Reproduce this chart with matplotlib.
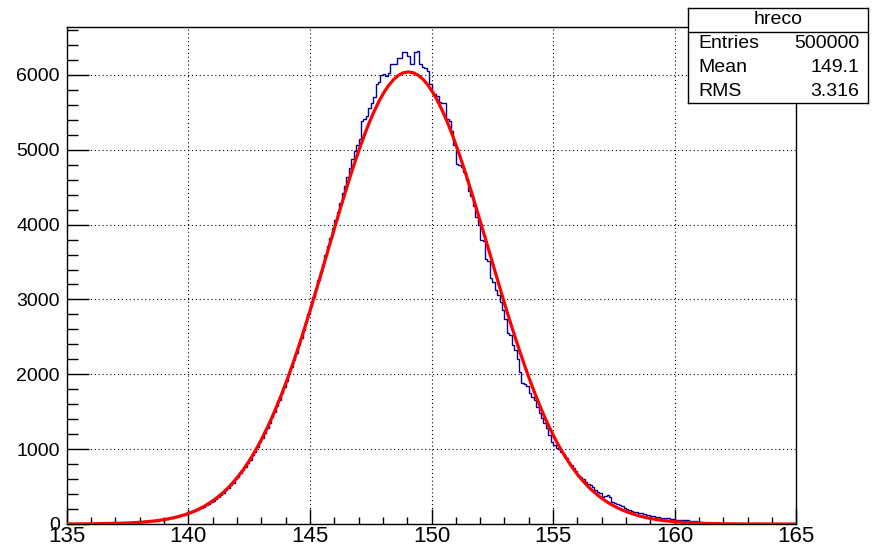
import matplotlib
matplotlib.use('Agg')
import matplotlib.pyplot as plt
import numpy as np
from matplotlib.ticker import MultipleLocator

plt.rcParams['font.family'] = ['Liberation Sans', 'DejaVu Sans']

# histogram hreco: 300 bins of width 0.1 from 135 to 165
bin_edges = np.linspace(135, 165, 301)
counts = [
    0, 0, 1, 0, 0, 1, 0, 1, 1, 2,
    2, 3, 2, 4, 3, 5, 4, 6, 5, 7,
    8, 7, 10, 9, 12, 11, 14, 13, 17, 19,
    22, 27, 28, 33, 36, 37, 44, 45, 53, 55,
    63, 70, 76, 80, 87, 98, 104, 117, 122, 133,
    145, 158, 170, 185, 199, 214, 232, 250, 268, 290,
    312, 338, 362, 392, 418, 452, 481, 519, 553, 596,
    632, 676, 718, 762, 815, 860, 916, 968, 1028, 1092,
    1148, 1218, 1285, 1352, 1428, 1502, 1580, 1660, 1745, 1825,
    1915, 2008, 2095, 2190, 2285, 2390, 2485, 2590, 2700, 2810,
    2915, 3030, 3140, 3260, 3370, 3470, 3600, 3710, 3820, 3950,
    4060, 4170, 4290, 4420, 4520, 4630, 4760, 4880, 4990, 5060,
    5150, 5390, 5410, 5450, 5560, 5620, 5700, 5880, 5900, 6000,
    6010, 5990, 6020, 6140, 6150, 6140, 6230, 6220, 6310, 6300,
    6250, 6140, 6150, 6300, 6320, 6140, 6100, 6090, 6050, 5880,
    5760, 5740, 5720, 5640, 5630, 5620, 5410, 5380, 5250, 5060,
    4810, 4790, 4770, 4700, 4600, 4450, 4380, 4250, 4100, 4000,
    3800, 3780, 3540, 3520, 3290, 3230, 3120, 3060, 2960, 2860,
    2740, 2550, 2530, 2390, 2330, 2200, 2030, 1890, 1870, 1850,
    1750, 1700, 1660, 1560, 1480, 1420, 1350, 1280, 1190, 1100,
    1050, 1020, 1000, 960, 930, 880, 830, 790, 750, 705,
    640, 625, 600, 560, 540, 515, 490, 455, 430, 415,
    365, 380, 390, 360, 300, 285, 265, 250, 235, 215,
    200, 190, 172, 165, 158, 150, 145, 135, 125, 118,
    108, 102, 96, 90, 86, 80, 77, 74, 70, 66,
    58, 55, 52, 50, 53, 48, 45, 42, 38, 30,
    22, 18, 14, 12, 9, 8, 6, 5, 4, 4,
    3, 2, 2, 1, 2, 1, 1, 0, 1, 0,
    0, 0, 0, 0, 0, 0, 0, 0, 0, 0,
    0, 0, 0, 0, 0, 0, 0, 0, 0, 0,
]

# fitted curve, read every 0.2 from 135.05 on, plus both ends
fit_x = np.concatenate(([135.0], 135.05 + 0.2 * np.arange(150), [165.0]))
fit_y = [
    1,
    1, 1, 1, 2, 2, 3, 3, 4, 5, 6,
    8, 10, 13, 16, 19, 23, 29, 35, 42, 51,
    61, 74, 88, 105, 124, 147, 172, 202, 236, 276,
    320, 370, 426, 488, 559, 637, 723, 817, 921, 1034,
    1156, 1289, 1431, 1584, 1745, 1917, 2097, 2286, 2483, 2687,
    2897, 3113, 3331, 3552, 3774, 3996, 4214, 4428, 4637, 4836,
    5026, 5205, 5370, 5520, 5653, 5769, 5865, 5941, 5996, 6029,
    6040, 6029, 5996, 5941, 5865, 5769, 5653, 5520, 5370, 5205,
    5026, 4836, 4637, 4428, 4214, 3996, 3774, 3552, 3331, 3113,
    2897, 2687, 2483, 2286, 2097, 1917, 1745, 1584, 1431, 1289,
    1158, 1036, 925, 822, 728, 643, 567, 497, 436, 381,
    332, 289, 250, 216, 186, 160, 137, 117, 99, 84,
    71, 60, 50, 42, 35, 29, 24, 19, 16, 13,
    10, 8, 6, 5, 4, 3, 2, 2, 1, 1,
    1, 0, 0, 0, 0, 0, 0, 0, 0, 0,
    0,
]

stat_names = ['Entries', 'Mean', 'RMS']
stat_values = ['500000', '149.1', '3.316']

W, H = 886, 548
fig = plt.figure(figsize=(W / 100, H / 100), dpi=100)
fig.patch.set_facecolor('white')

ax = fig.add_axes([66.7 / W, 24 / H, (796.3 - 66.7) / W, (524 - 27.3) / H])
ax.stairs(counts, bin_edges, color='#000099', linewidth=1.0, zorder=3)
ax.plot(fit_x, fit_y, color='#ff0000', linewidth=2.3, zorder=4)

ax.set_xlim(135, 165)
ax.set_ylim(0, 6636)
ax.xaxis.set_major_locator(MultipleLocator(5))
ax.xaxis.set_minor_locator(MultipleLocator(1))
ax.yaxis.set_major_locator(MultipleLocator(1000))
ax.yaxis.set_minor_locator(MultipleLocator(200))
ax.grid(True, which='major', color='black', linestyle=(0, (1, 2.5)), linewidth=0.8, zorder=1)

ax.tick_params(which='both', direction='in', top=False, right=False, width=1, color='black')
ax.tick_params(axis='x', which='major', length=10.8, pad=1.5, labelsize=16)
ax.tick_params(axis='x', which='minor', length=5.4)
ax.tick_params(axis='y', which='major', length=15.8, pad=5, labelsize=14)
ax.tick_params(axis='y', which='minor', length=7.9)
for s in ax.spines.values():
    s.set_linewidth(1)

# stats box
bx = fig.add_axes([688 / W, (H - 103) / H, (868 - 688) / W, (103 - 7.5) / H])
bx.set_xlim(0, 1)
bx.set_ylim(0, 1)
bx.set_xticks([])
bx.set_yticks([])
bx.set_facecolor('white')
for s in bx.spines.values():
    s.set_linewidth(1)
bx.axhline(0.747, color='black', linewidth=1)
bx.text(0.5, 0.874, 'hreco', ha='center', va='center', fontsize=14)
row_y = [0.622, 0.373, 0.124]
for name, val, yy in zip(stat_names, stat_values, row_y):
    bx.text(0.056, yy, name, ha='left', va='center', fontsize=14)
    bx.text(0.95, yy, val, ha='right', va='center', fontsize=14)

fig.savefig('out.png', dpi=100)
